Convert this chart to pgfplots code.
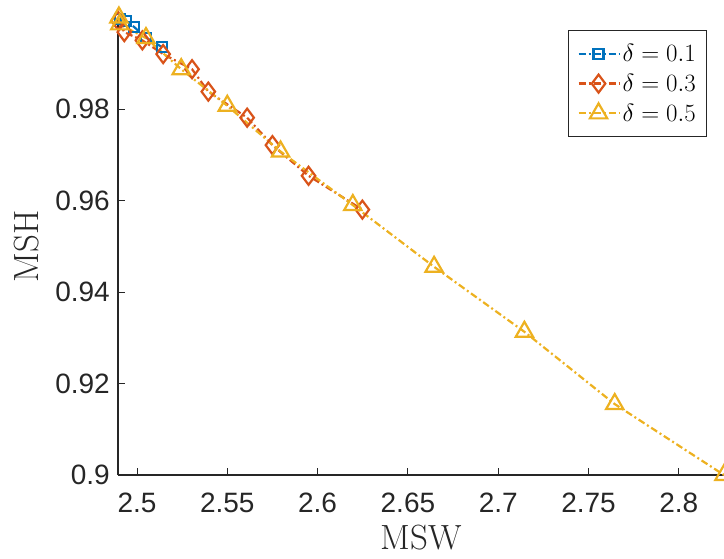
\documentclass[border=0pt]{standalone}
\usepackage{pgfplots}
\pgfplotsset{compat=1.18}
\usepackage{fontspec}
\newfontfamily\arialf{Liberation Sans}
\definecolor{mblue}{rgb}{0,0.447,0.741}
\definecolor{mred}{rgb}{0.85,0.325,0.098}
\definecolor{myellow}{rgb}{0.929,0.694,0.125}
\definecolor{axgray}{rgb}{0.15,0.15,0.15}
\begin{document}
\begin{tikzpicture}
\begin{axis}[
  at={(118pt,84pt)}, anchor=south west,
  width=606pt, height=457.5pt, scale only axis,
  xmin=2.4895, xmax=2.825, ymin=0.9, ymax=1.0,
  axis lines*=left,
  axis line style={-, axgray, line width=1.1pt},
  tick align=inside, major tick length=7pt,
  tick style={axgray, line width=0.9pt},
  xtick={2.5,2.55,2.6,2.65,2.7,2.75,2.8},
  xticklabels={2.5,2.55,2.6,2.65,2.7,2.75,2.8},
  ytick={0.9,0.92,0.94,0.96,0.98},
  yticklabels={0.9,0.92,0.94,0.96,0.98},
  ticklabel style={font=\arialf\fontsize{28}{33}\selectfont, text=axgray},
  xticklabel style={anchor=north, inner sep=0pt},
  yticklabel style={anchor=east, inner sep=0pt},
  xticklabel shift=18pt, yticklabel shift=8pt,
  xlabel={MSW}, ylabel={MSH},
  label style={font=\fontsize{35}{42}\selectfont, text=axgray},
  xlabel style={at={(axis description cs:0.5,-0.109)}, anchor=north, inner sep=0pt},
  ylabel style={at={(axis description cs:-0.1304,0.5)}, anchor=south, inner sep=0pt},
  clip=false,
  legend style={at={(axis description cs:0.7426,0.9727)}, anchor=north west,
    font=\fontsize{29}{34}\selectfont, draw=axgray, line width=0.9pt,
    inner xsep=9pt, inner ysep=12pt, row sep=7pt, cells={anchor=west}},
  legend image code/.code={\draw[mark repeat=2,mark phase=2] plot coordinates {(0pt,0pt) (20pt,0pt) (41pt,0pt)};},
]
\addplot[mblue, line width=2.2pt, dash pattern=on 7pt off 3pt on 2pt off 3pt,
  mark=square, mark size=5pt, mark options={solid}] coordinates {
(2.4905,0.9997) (2.4940,0.9992) (2.4985,0.9979) (2.5050,0.9956) (2.5140,0.9935)};
\addlegendentry{$\delta=0.1$}
\addplot[mred, line width=2.2pt, dash pattern=on 7pt off 3pt on 2pt off 3pt,
  mark=diamond, mark size=9pt, mark options={solid}] coordinates {
(2.4895,0.9993) (2.4930,0.9968) (2.5030,0.9950) (2.5145,0.9920) (2.5305,0.9887)
(2.5395,0.9838) (2.5610,0.9781) (2.5750,0.9721) (2.5950,0.9654) (2.6248,0.9580)};
\addlegendentry{$\delta=0.3$}
\addplot[myellow, line width=2.2pt, dash pattern=on 7pt off 3pt on 2pt off 3pt,
  mark=triangle, mark size=10pt, mark options={solid}] coordinates {
(2.4900,1.0000) (2.4905,0.9985) (2.5050,0.9955) (2.5245,0.9887) (2.5500,0.9807)
(2.5795,0.9707) (2.6195,0.9590) (2.6645,0.9455) (2.7145,0.9313) (2.7645,0.9155)
(2.8250,0.9000)};
\addlegendentry{$\delta=0.5$}
\end{axis}
\pgfresetboundingbox
\path[use as bounding box] (0,0) rectangle (724pt,559pt);
\end{tikzpicture}
\end{document}
